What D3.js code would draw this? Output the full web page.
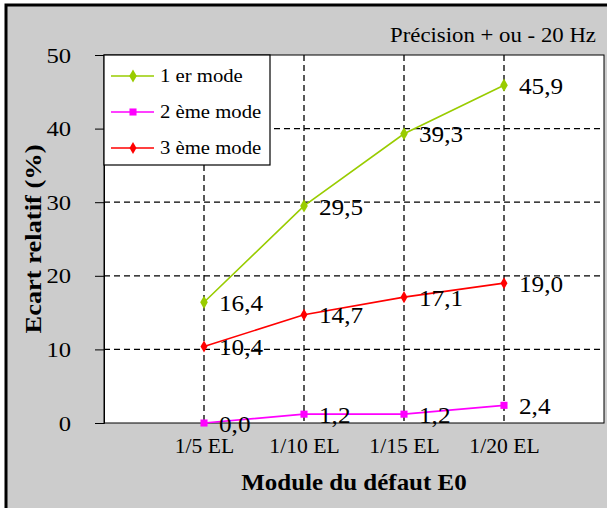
<!DOCTYPE html>
<html><head><meta charset="utf-8">
<script src="https://cdn.jsdelivr.net/npm/d3@7"></script>
<style>body{margin:0;background:#fff}svg{display:block}</style>
</head><body>
<script>
const categories = ["1/5 EL", "1/10 EL", "1/15 EL", "1/20 EL"];
const mode1 = [16.4, 29.5, 39.3, 45.9];
const mode2 = [0.0, 1.2, 1.2, 2.4];
const mode3 = [10.4, 14.7, 17.1, 19.0];
const seriesNames = ["1 er mode", "2 ème mode", "3 ème mode"];
const yTicks = [0, 10, 20, 30, 40, 50];
const title = "Précision + ou - 20 Hz";
const xTitle = "Module du défaut E0";
const yTitle = "Ecart relatif (%)";

const W = 607, H = 508;
const L = 104, R = 604, T = 55, B = 423;
const FONT = "'Liberation Serif','Times New Roman',serif";
const colors = ["#99cc00", "#ff00ff", "#ff0000"];
const shapes = [d3.symbolDiamond, d3.symbolSquare, d3.symbolDiamond];
const sizes = [50, 50, 42];

const svg = d3.select("body").append("svg").attr("width", W).attr("height", H);
svg.append("rect").attr("x", 6).attr("y", 5).attr("width", W).attr("height", H).attr("fill", "#cccccc").attr("stroke", "#000").attr("stroke-width", 3);

function stretch(sel, sx) {
  sel.each(function () {
    const w = this.getComputedTextLength();
    d3.select(this).attr("textLength", w * sx).attr("lengthAdjust", "spacingAndGlyphs");
  });
  return sel;
}

const x = d3.scalePoint().domain(categories).range([L, R]).padding(1);
const y = d3.scaleLinear().domain([0, 50]).range([B, T]);

svg.append("rect").attr("x", L).attr("y", T).attr("width", R - L).attr("height", B - T).attr("fill", "#fff").attr("stroke", "#000").attr("stroke-width", 1);

// grid
const grid = svg.append("g").attr("stroke", "#000").attr("stroke-dasharray", "6,4").attr("stroke-width", 1.3);
grid.selectAll(".h").data(yTicks.filter(d => d > 0 && d < 50)).join("line")
  .attr("x1", L).attr("x2", R).attr("y1", d => y(d)).attr("y2", d => y(d));
grid.selectAll(".v").data(categories).join("line")
  .attr("x1", d => x(d)).attr("x2", d => x(d)).attr("y1", T).attr("y2", B);

// y axis
const yAxis = svg.append("g").attr("transform", `translate(${L},0)`)
  .call(d3.axisLeft(y).tickValues(yTicks).tickSize(9).tickPadding(24).tickFormat(d3.format("d")));
yAxis.select(".domain").attr("stroke", "#000");
yAxis.selectAll("line").attr("stroke", "#000");
const yt = yAxis.selectAll("text").attr("font-size", 22).attr("font-family", FONT).attr("fill", "#000");
stretch(yt, 1.12);

// x axis
const xAxis = svg.append("g").attr("transform", `translate(0,${B})`)
  .call(d3.axisBottom(x).tickSize(0).tickPadding(15));
xAxis.select(".domain").remove();
const xt = xAxis.selectAll("text").attr("font-size", 21).attr("font-family", FONT).attr("fill", "#000");
stretch(xt, 1.03);

// series
const allSeries = [mode1, mode2, mode3];
const line = d3.line().x((d, i) => x(categories[i])).y(d => y(d));
allSeries.forEach((s, k) => {
  svg.append("path").datum(s).attr("d", line).attr("fill", "none").attr("stroke", colors[k]).attr("stroke-width", 1.6);
  svg.selectAll(null).data(s).join("path")
    .attr("transform", (d, i) => `translate(${x(categories[i])},${y(d)})`)
    .attr("d", d3.symbol(shapes[k], sizes[k])).attr("fill", colors[k]);
});
allSeries.forEach((s, k) => {
  const t = svg.selectAll(null).data(s).join("text")
    .attr("x", (d, i) => x(categories[i]) + 15).attr("y", d => y(d)).attr("dy", "0.36em")
    .attr("font-size", 24).attr("font-family", FONT).attr("fill", "#000")
    .text(d => d.toFixed(1).replace(".", ","));
  stretch(t, 1.05);
});

// legend
const lg = svg.append("g");
lg.append("rect").attr("x", L).attr("y", T).attr("width", 166).attr("height", 110).attr("fill", "#fff").attr("stroke", "#000").attr("stroke-width", 1.2);
seriesNames.forEach((n, k) => {
  const cy = T + 21 + k * 36;
  lg.append("line").attr("x1", L + 7).attr("x2", L + 50).attr("y1", cy).attr("y2", cy).attr("stroke", colors[k]).attr("stroke-width", 1.6);
  lg.append("path").attr("transform", `translate(${L + 29},${cy})`).attr("d", d3.symbol(shapes[k], sizes[k])).attr("fill", colors[k]);
  const t = lg.append("text").attr("x", L + 56).attr("y", cy).attr("dy", "0.36em").attr("font-size", 18).attr("font-family", FONT).text(n);
  stretch(t, 1.15);
});

// titles
const tt = svg.append("text").attr("x", 596).attr("y", 42).attr("text-anchor", "end").attr("font-size", 20).attr("font-family", FONT).text(title);
stretch(tt, 1.14);
const xtt = svg.append("text").attr("x", (L + R) / 2).attr("y", 490).attr("text-anchor", "middle").attr("font-size", 24).attr("font-weight", "bold").attr("font-family", FONT).text(xTitle);
stretch(xtt, 1.04);
const ytt = svg.append("text").attr("transform", `translate(41,${(T + B) / 2}) rotate(-90)`).attr("text-anchor", "middle").attr("font-size", 23).attr("font-weight", "bold").attr("font-family", FONT).text(yTitle);
stretch(ytt, 1.15);
</script>
</body></html>
